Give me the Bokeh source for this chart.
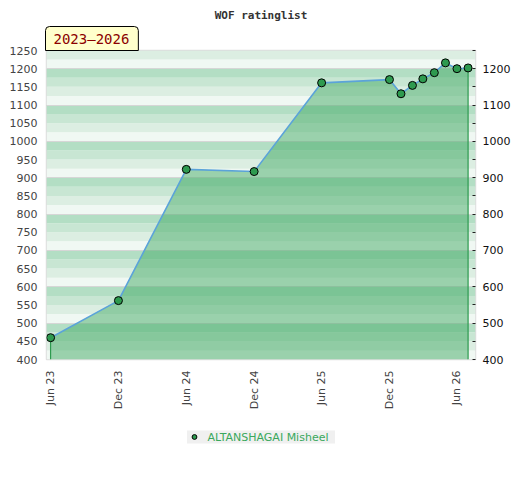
from datetime import datetime
import numpy as np
from bokeh.plotting import figure
from bokeh.layouts import column
from bokeh.models import (Range1d, LinearAxis, FixedTicker, DatetimeTickFormatter,
                          BoxAnnotation, Title, Legend, LegendItem, ColumnDataSource)
from bokeh.embed import file_html
from bokeh.resources import INLINE

# ---- data ----
dates = ["2023-06-01", "2023-12-01", "2024-06-01", "2024-12-01", "2025-06-01",
         "2025-12-01", "2026-01-01", "2026-02-01", "2026-03-01", "2026-04-01",
         "2026-05-01", "2026-06-01", "2026-07-01"]
ratings = [460, 562, 923, 917, 1161, 1170, 1131, 1154, 1172, 1189, 1216, 1200, 1202]
player = "ALTANSHAGAI Misheel"
period_label = "2023\u20132026"
chart_title = "WOF ratinglist"
tick_dates = ["2023-06-01", "2023-12-01", "2024-06-01", "2024-12-01",
              "2025-06-01", "2025-12-01", "2026-06-01"]
y_min, y_max = 400, 1250

MARKER_FILL = "#2e9a4f"

xs = [datetime.strptime(d, "%Y-%m-%d") for d in dates]
src = ColumnDataSource(dict(x=xs, y=ratings, base=[y_min] * len(ratings)))

p = figure(width=520, height=412, output_backend="svg", toolbar_location=None,
           x_axis_type="datetime",
           x_range=Range1d(datetime(2023, 5, 21), datetime(2026, 7, 21)),
           y_range=Range1d(y_min, y_max),
           min_border_left=46, min_border_right=45, min_border_top=50,
           min_border_bottom=52)
p.background_fill_color = "white"
p.outline_line_color = "#dddddd"
p.outline_line_width = 1.5
p.xgrid.visible = False
p.ygrid.ticker = FixedTicker(ticks=list(range(400, 1251, 100)))
p.ygrid.grid_line_color = "#d6d6d6"
p.ygrid.grid_line_width = 1

p.title.text = chart_title
p.title.align = "center"
p.title.text_font = "DejaVu Sans Mono"
p.title.text_font_style = "bold"
p.title.text_font_size = "11px"
p.title.text_color = "#333333"
p.title.standoff = 6

period = Title(text=period_label, align="left", text_font="DejaVu Sans Mono",
               text_font_style="normal", text_font_size="14px", text_color="#8b0000",
               background_fill_color="#ffffcc", border_line_color="black",
               border_line_width=1, padding=dict(left=8, right=9, top=4, bottom=4),
               border_radius=dict(top_left=4, top_right=4, bottom_right=0, bottom_left=0),
               standoff=0, offset=-1)
p.add_layout(period, "above")

# background bands (4 shades every 100)
shades = {0: "#f0f8f3", 25: "#dceee2", 50: "#c8e6d3", 75: "#b3dec4"}
for b in range(y_min, y_max, 25):
    p.add_layout(BoxAnnotation(bottom=b, top=b + 25, fill_color=shades[b % 100],
                               fill_alpha=1, line_color=None, level="image"))

# area
p.varea(x="x", y1="base", y2="y", source=src, fill_color="#43a966", fill_alpha=0.5)
p.segment(x0=[xs[0], xs[-1]], y0=[y_min, y_min], x1=[xs[0], xs[-1]],
          y1=[ratings[0], ratings[-1]], line_color=MARKER_FILL, line_width=1.2)
p.line(x="x", y="y", source=src, line_color="#5ba3d9", line_width=1.6)
p.scatter(x="x", y="y", source=src, size=8, fill_color=MARKER_FILL,
          line_color="black", line_width=1)

# axes
ax = p.xaxis[0]
ax.ticker = FixedTicker(ticks=[datetime.strptime(d, "%Y-%m-%d").timestamp() * 1000 for d in tick_dates])
fmt = "%b %y"
ax.formatter = DatetimeTickFormatter(days=fmt, months=fmt, years=fmt, hours=fmt,
                                     minutes=fmt, seconds=fmt, milliseconds=fmt)
ax.major_label_orientation = np.pi / 2
ax.major_tick_out = 0
ax.major_tick_in = 0
ax.minor_tick_out = 0
ax.minor_tick_in = 0
ax.axis_line_color = None
ax.major_label_standoff = 11
ax.major_label_text_font = "DejaVu Sans"
ax.major_label_text_font_size = "11px"
ax.major_label_text_color = "#444444"

ay = p.yaxis[0]
ay.ticker = FixedTicker(ticks=list(range(400, 1251, 50)))
ay.major_tick_out = 0
ay.major_tick_in = 0
ay.minor_tick_out = 0
ay.minor_tick_in = 0
ay.axis_line_color = None
ay.major_label_standoff = 9
ay.major_label_text_font = "DejaVu Sans"
ay.major_label_text_font_size = "11px"
ay.major_label_text_color = "#444444"

ar = LinearAxis(ticker=FixedTicker(ticks=list(range(400, 1201, 100)),
                                   minor_ticks=list(range(450, 1251, 100))))
ar.axis_line_color = None
ar.major_tick_in = 3
ar.major_tick_out = 0
ar.minor_tick_in = 3
ar.minor_tick_out = 0
ar.major_tick_line_color = "#222222"
ar.minor_tick_line_color = "#222222"
ar.major_label_standoff = 7
ar.major_label_text_font = "DejaVu Sans"
ar.major_label_text_font_size = "11px"
ar.major_label_text_color = "#111111"
p.add_layout(ar, "right")

# legend strip below the chart (its renderer's points fall outside its own ranges)
lg = figure(width=520, height=49, output_backend="svg", toolbar_location=None,
            x_axis_location=None, y_axis_location=None, min_border=0,
            x_range=Range1d(0, 1), y_range=Range1d(0, 1))
lg.title.visible = False
lg.grid.visible = False
lg.outline_line_color = None
lg_r = lg.scatter(x="x", y="y", source=src, size=8, fill_color=MARKER_FILL,
                  line_color="black", line_width=1)
legend = Legend(items=[LegendItem(label=player, renderers=[lg_r], index=0)],
                location="center", orientation="horizontal",
                background_fill_color="#f0f0f0", background_fill_alpha=1,
                border_line_color=None, label_text_color="#3aa85c",
                label_text_font="DejaVu Sans", label_text_font_size="11px",
                padding=4, margin=0, glyph_width=14, glyph_height=12, label_standoff=7,
                label_height=12, label_width=127)
lg.add_layout(legend)

layout = column(p, lg, spacing=0)
open("out.html", "w").write(file_html(layout, INLINE))
